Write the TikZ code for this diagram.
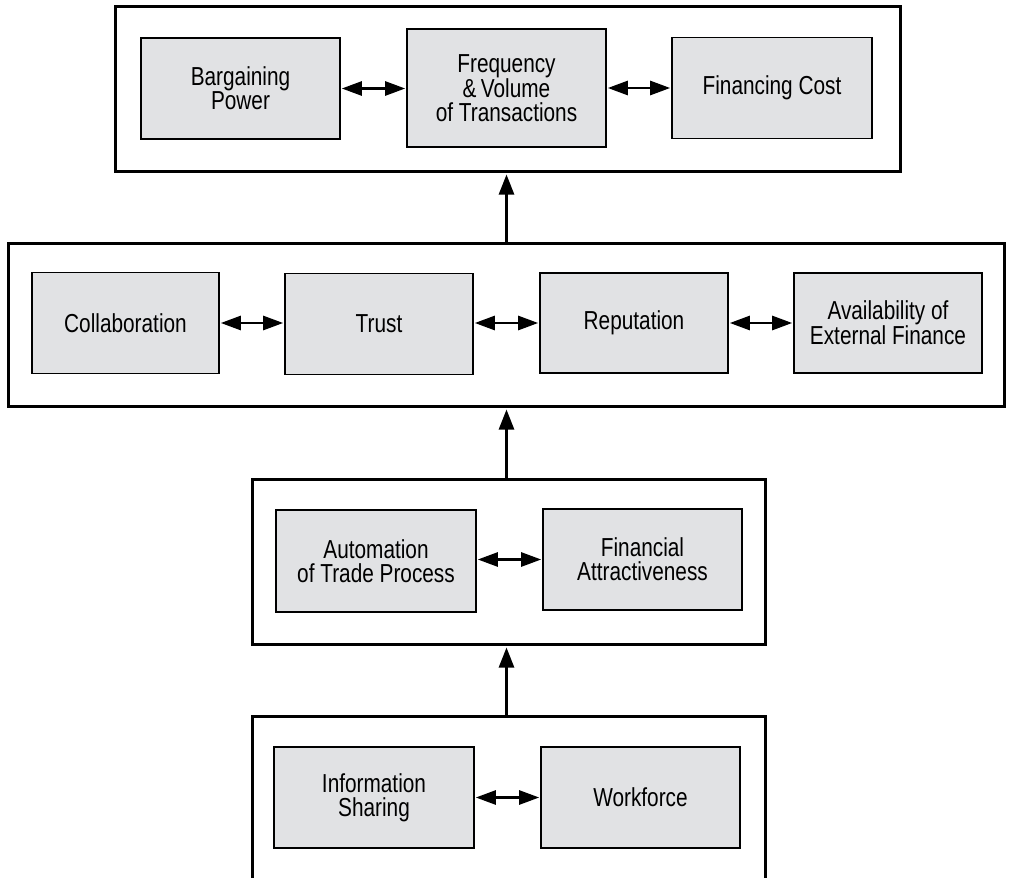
\documentclass[tikz,border=0pt]{standalone}
\usepackage{fontspec}
\setmainfont{Liberation Sans}[FakeStretch=0.8]
\usetikzlibrary{arrows.meta}
\definecolor{boxgray}{RGB}{225,226,228}
\begin{document}
\begin{tikzpicture}[x=1pt,y=-1pt,
  outerbox/.style={draw=black,line width=3pt,fill=white,inner sep=0pt,anchor=north west},
  innerbox/.style={draw=black,line width=1.8pt,fill=boxgray,inner sep=0pt,align=center,
    font=\fontsize{26}{24}\selectfont,text=black},
  biarr/.style={line width=2.6pt,{Triangle[length=20pt,width=14pt]}-{Triangle[length=20pt,width=14pt]},shorten <=0.9pt,shorten >=0.9pt},
  uparr/.style={line width=2.6pt,-{Triangle[length=20pt,width=15pt]},shorten >=1.5pt}]
\useasboundingbox (0,0) rectangle (1010,878);
\fill[white] (0,0) rectangle (1010,878);
% outer boxes
\node[outerbox,minimum width=785pt,minimum height=165pt] (O1) at (114,5) {};
\node[outerbox,minimum width=996pt,minimum height=163pt] (O2) at (7,242) {};
\node[outerbox,minimum width=513pt,minimum height=165pt] (O3) at (251,478) {};
\node[outerbox,minimum width=513pt,minimum height=200pt] (O4) at (251,715) {};
% row 1
\node[innerbox,minimum width=199pt,minimum height=101pt] (bp) at (240.5,88.5) {Bargaining\\Power};
\node[innerbox,minimum width=199pt,minimum height=118pt] (fv) at (506.5,88) {Frequency\\\&\,Volume\\of Transactions};
\node[innerbox,minimum width=200pt,minimum height=101pt] (fc) at (772,88) {Financing Cost};
% row 2
\node[innerbox,minimum width=187pt,minimum height=101pt] (col) at (125.5,323) {Collaboration};
\node[innerbox,minimum width=188pt,minimum height=101pt] (tr) at (379,324) {Trust};
\node[innerbox,minimum width=188pt,minimum height=100pt] (rep) at (634,323) {Reputation};
\node[innerbox,minimum width=188pt,minimum height=100pt] (av) at (888,323) {Availability of\\External Finance};
% row 3
\node[innerbox,minimum width=200pt,minimum height=102pt] (au) at (376,561) {Automation\\of Trade Process};
\node[innerbox,minimum width=199pt,minimum height=101pt] (fa) at (642.5,559.5) {Financial\\Attractiveness};
% row 4
\node[innerbox,minimum width=200pt,minimum height=101pt] (is) at (374,797.5) {Information\\Sharing};
\node[innerbox,minimum width=199pt,minimum height=101pt] (wf) at (640.5,797.5) {Workforce};
% horizontal arrows
\draw[biarr] (bp.east) -- (bp.east -| fv.west);
\draw[biarr] (fv.east |- fc.west) -- (fc.west);
\draw[biarr] (col.east) -- (col.east -| tr.west);
\draw[biarr] (tr.east |- rep.west) -- (rep.west);
\draw[biarr] (rep.east) -- (av.west);
\draw[biarr] (au.east |- fa.west) -- (fa.west);
\draw[biarr] (is.east) -- (wf.west);
% vertical arrows
\draw[uparr] (O2.north -| fv.south) -- (O1.south -| fv.south);
\draw[uparr] (O3.north -| fv.south) -- (O2.south -| fv.south);
\draw[uparr] (O4.north -| fv.south) -- (O3.south -| fv.south);
\end{tikzpicture}
\end{document}
